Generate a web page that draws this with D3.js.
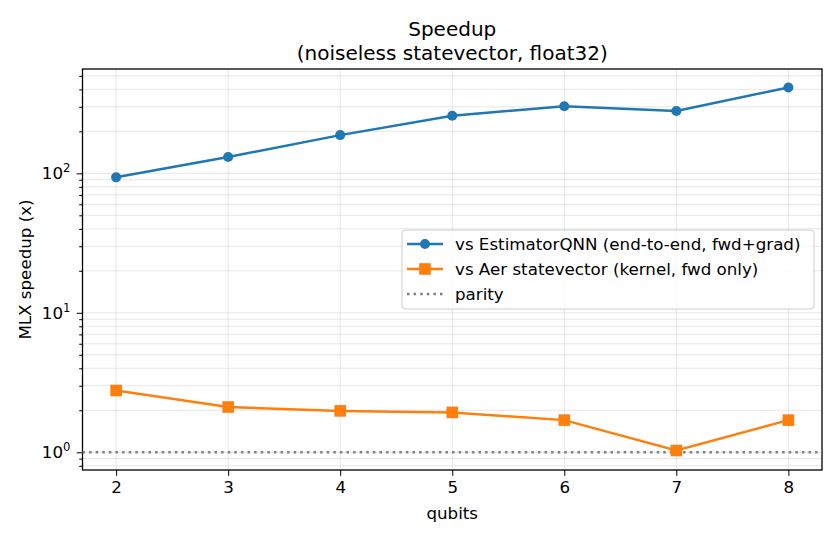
<!DOCTYPE html>
<html>
<head>
  <meta charset="utf-8">
  <style>
    body { margin: 0; background: #fff; }
    svg { font-family: "DejaVu Sans", sans-serif; }
    .grid line { stroke: #b0b0b0; stroke-opacity: 0.3; stroke-width: 1; }
  </style>
</head>
<body>
  <svg id="chart" width="840" height="540"></svg>

  <script src="https://d3js.org/d3.v7.min.js"></script>
  <script>
    var qubits = [2, 3, 4, 5, 6, 7, 8];
    var vsEstimator = [93.6, 131, 188, 259, 303, 280, 413];
    var vsAer = [2.77, 2.11, 1.98, 1.93, 1.70, 1.03, 1.70];
    var seriesNames = [
      'vs EstimatorQNN (end-to-end, fwd+grad)',
      'vs Aer statevector (kernel, fwd only)',
      'parity'
    ];
    var yMajor = [1, 10, 100];

    var margin = { left: 82.5, right: 18, top: 69, bottom: 70 },
      width = 840, height = 540,
      blue = '#1f77b4', orange = '#ff7f0e',
      lw = 2.5, fs = 16.7;

    var svg = d3.select('#chart');
    var x = d3.scaleLinear().domain([1.7, 8.3]).range([margin.left, width - margin.right]);
    var y = d3.scaleLog().domain([0.746, 560]).range([height - margin.bottom, margin.top]);

    // minor values 2..9 per decade
    var yMinor = [];
    [0.1, 1, 10, 100].forEach(function (d) {
      for (var k = 2; k <= 9; k++) {
        var v = d * k;
        if (v >= y.domain()[0] && v <= y.domain()[1]) yMinor.push(v);
      }
    });

    // grid
    var grid = svg.append('g').attr('class', 'grid');
    grid.selectAll('.gx').data(qubits).join('line')
      .attr('x1', d => x(d)).attr('x2', d => x(d))
      .attr('y1', margin.top).attr('y2', height - margin.bottom);
    grid.selectAll('.gy').data(yMajor.concat(yMinor)).join('line')
      .attr('x1', margin.left).attr('x2', width - margin.right)
      .attr('y1', d => y(d)).attr('y2', d => y(d));

    // axes
    var xAxis = svg.append('g')
      .attr('transform', 'translate(0,' + (height - margin.bottom) + ')')
      .call(d3.axisBottom(x).tickValues(qubits).tickSize(5.8).tickPadding(5.8).tickFormat(d3.format('d')));
    svg.append('g')
      .attr('transform', 'translate(' + margin.left + ',0)')
      .call(d3.axisLeft(y).tickValues(yMajor).tickSize(5.8).tickFormat(''));
    svg.append('g')
      .attr('transform', 'translate(' + margin.left + ',0)')
      .call(d3.axisLeft(y).tickValues(yMinor).tickSize(3.3).tickFormat(''));
    svg.selectAll('.tick line').attr('stroke', '#000').attr('stroke-width', 1);
    xAxis.selectAll('text').attr('font-size', fs).attr('fill', '#000')
      .attr('font-family', '"DejaVu Sans", sans-serif');

    // y tick labels 10^n
    yMajor.forEach(function (v) {
      var t = svg.append('text')
        .attr('x', margin.left - 12).attr('y', y(v) + 6)
        .attr('text-anchor', 'end').attr('font-size', fs);
      t.append('tspan').text('10');
      t.append('tspan').attr('dy', -7).attr('font-size', 11.7).text(Math.round(Math.log10(v)));
    });

    svg.selectAll('.domain').remove();
    svg.append('rect')
      .attr('x', margin.left).attr('y', margin.top)
      .attr('width', width - margin.right - margin.left)
      .attr('height', height - margin.bottom - margin.top)
      .attr('fill', 'none').attr('stroke', '#000').attr('stroke-width', 1.3);

    // parity
    svg.append('line')
      .attr('x1', margin.left).attr('x2', width - margin.right)
      .attr('y1', y(1)).attr('y2', y(1))
      .attr('stroke', 'gray').attr('stroke-width', lw)
      .attr('stroke-dasharray', '2.5,4.1');

    var line = d3.line().x(d => x(d[0])).y(d => y(d[1]));

    var estPts = qubits.map((q, i) => [q, vsEstimator[i]]);
    var aerPts = qubits.map((q, i) => [q, vsAer[i]]);

    svg.append('path').datum(estPts).attr('d', line)
      .attr('fill', 'none').attr('stroke', blue).attr('stroke-width', lw);
    svg.selectAll('.est').data(estPts).join('circle')
      .attr('cx', d => x(d[0])).attr('cy', d => y(d[1])).attr('r', 5).attr('fill', blue);

    svg.append('path').datum(aerPts).attr('d', line)
      .attr('fill', 'none').attr('stroke', orange).attr('stroke-width', lw);
    svg.selectAll('.aer').data(aerPts).join('rect')
      .attr('x', d => x(d[0]) - 5.8).attr('y', d => y(d[1]) - 5.8)
      .attr('width', 11.6).attr('height', 11.6).attr('fill', orange);

    // legend
    var lg = svg.append('g').attr('transform', 'translate(402,230)');
    lg.append('rect').attr('width', 412).attr('height', 79).attr('rx', 3)
      .attr('fill', '#fff').attr('fill-opacity', 0.8)
      .attr('stroke', '#cccccc').attr('stroke-width', 1);
    seriesNames.forEach(function (name, i) {
      var cy = 14 + i * 25;
      var l = lg.append('line').attr('x1', 5).attr('x2', 41).attr('y1', cy).attr('y2', cy)
        .attr('stroke-width', lw);
      if (i === 0) {
        l.attr('stroke', blue);
        lg.append('circle').attr('cx', 23).attr('cy', cy).attr('r', 5).attr('fill', blue);
      } else if (i === 1) {
        l.attr('stroke', orange);
        lg.append('rect').attr('x', 23 - 5.8).attr('y', cy - 5.8)
          .attr('width', 11.6).attr('height', 11.6).attr('fill', orange);
      } else {
        l.attr('stroke', 'gray').attr('stroke-dasharray', '2.5,4.1');
      }
      lg.append('text').attr('x', 53).attr('y', cy + 6)
        .attr('font-size', fs).text(name);
    });

    // titles & labels
    var cx = (margin.left + width - margin.right) / 2;
    svg.append('text').attr('x', cx).attr('y', 36)
      .attr('text-anchor', 'middle').attr('font-size', 20).text('Speedup');
    svg.append('text').attr('x', cx).attr('y', 60)
      .attr('text-anchor', 'middle').attr('font-size', 20).text('(noiseless statevector, float32)');
    svg.append('text').attr('x', cx).attr('y', 519)
      .attr('text-anchor', 'middle').attr('font-size', fs).text('qubits');
    svg.append('text')
      .attr('transform', 'translate(31,' + ((margin.top + height - margin.bottom) / 2) + ') rotate(-90)')
      .attr('text-anchor', 'middle').attr('font-size', fs).text('MLX speedup (x)');
  </script>
</body>
</html>
